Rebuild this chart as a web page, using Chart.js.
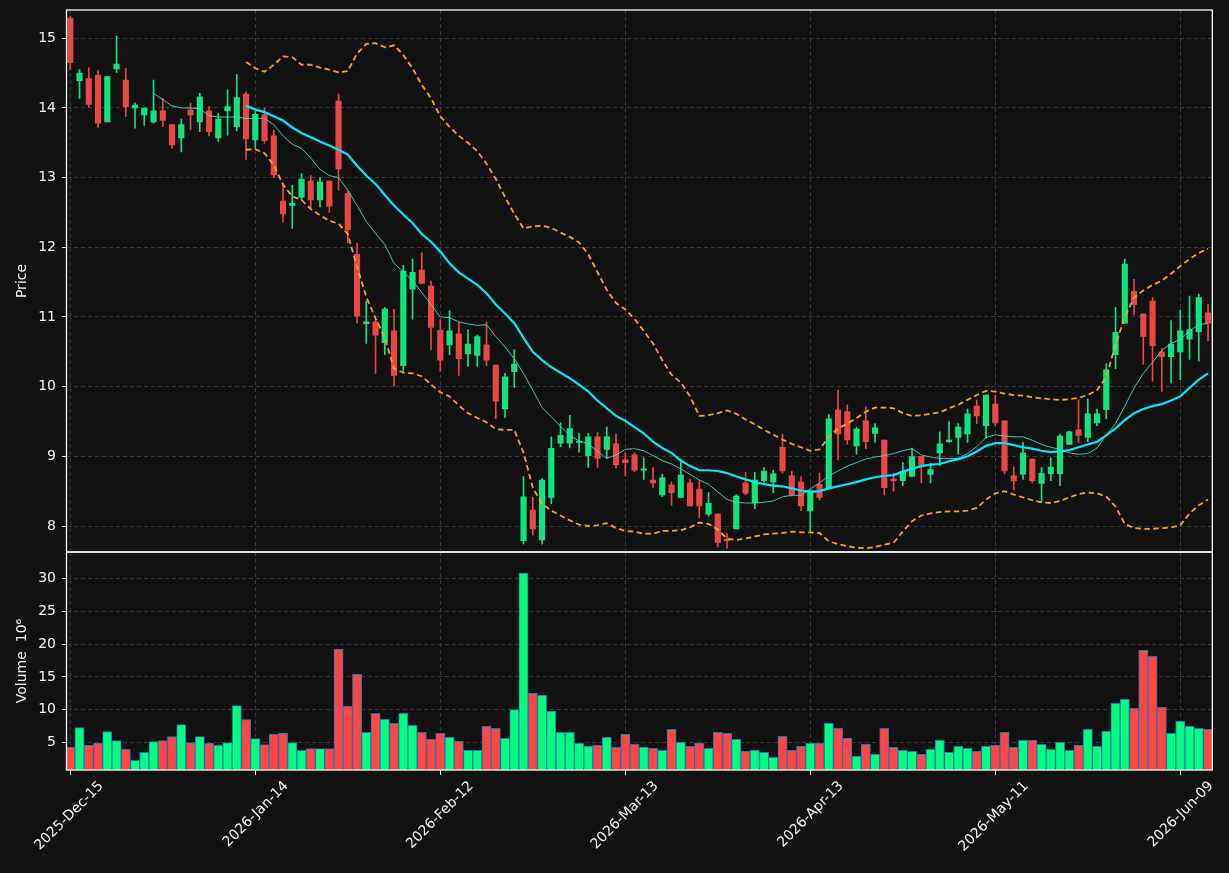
<!DOCTYPE html>
<html>
<head>
<meta charset="utf-8">
<title>Candles</title>
<script src="https://cdn.jsdelivr.net/npm/chart.js@4.4.0/dist/chart.umd.min.js"></script>
<style>
    html, body { margin: 0; padding: 0; background: #121212; }
    #wrap { position: relative; width: 1229px; height: 873px; }
    canvas { position: absolute; left: 0; top: 0; }
</style>
</head>
<body>
<div id="wrap">
    <canvas id="volumeChart" width="1229" height="873"></canvas>
    <canvas id="priceChart" width="1229" height="873"></canvas>
</div>
<script>
// dados (um candle por pregao, indice 0 = 2025-Dec-15)
const tickIndex = [0, 20, 40, 60, 80, 100, 120];
const tickLabels = ['2025-Dec-15', '2026-Jan-14', '2026-Feb-12', '2026-Mar-13', '2026-Apr-13', '2026-May-11', '2026-Jun-09'];
const priceTicks = [8, 9, 10, 11, 12, 13, 14, 15];
const volumeTicks = [5, 10, 15, 20, 25, 30];

const opens = [15.29,14.39,14.42,14.47,13.80,14.56,14.40,14.00,13.90,13.80,
    13.96,13.76,13.57,13.97,13.80,13.96,13.57,13.96,13.73,14.20,
    13.54,13.90,13.60,12.665,12.60,12.72,12.95,12.68,12.95,14.10,
    12.77,11.90,10.905,10.93,10.63,10.80,10.30,11.40,11.675,11.445,
    10.81,10.60,10.76,10.47,10.45,10.60,10.31,9.68,10.215,7.79,
    8.23,7.80,8.41,9.19,9.19,9.20,9.01,9.28,9.10,9.18,
    8.95,9.02,8.80,8.66,8.445,8.59,8.41,8.62,8.53,8.17,
    8.17,7.81,7.96,8.62,8.335,8.65,8.63,9.13,8.72,8.63,
    8.215,8.60,8.55,9.665,9.64,9.15,9.51,9.33,9.235,8.675,
    8.65,8.71,9.00,8.74,9.05,9.21,9.27,9.32,9.72,9.44,
    9.75,9.51,8.72,8.745,8.96,8.61,8.75,8.75,9.17,9.38,
    9.27,9.48,9.67,10.46,10.91,11.37,11.04,11.23,10.50,10.43,
    10.50,10.68,10.79,11.06];
const highs = [15.32,14.55,14.58,14.54,14.45,15.03,14.57,14.07,14.00,14.40,
    14.14,13.76,13.84,14.07,14.21,14.02,13.92,14.26,14.48,14.23,
    13.95,14.00,13.68,12.92,12.89,13.06,13.03,13.00,12.95,14.20,
    12.80,12.06,11.23,10.96,11.14,11.11,11.74,11.83,11.92,11.51,
    10.96,11.09,10.93,10.82,10.74,10.93,10.31,10.19,10.53,8.71,
    8.41,8.68,9.28,9.48,9.59,9.33,9.33,9.34,9.42,9.32,
    9.05,9.05,8.98,8.84,8.74,8.63,8.92,8.67,8.65,8.48,
    8.17,7.89,8.45,8.77,8.77,8.84,8.80,9.32,8.79,8.71,
    8.51,8.76,9.60,9.95,9.74,9.42,9.71,9.47,9.235,8.76,
    8.91,9.12,9.00,8.90,9.35,9.50,9.47,9.68,9.81,9.88,
    9.88,9.51,8.85,9.20,8.96,8.84,8.98,9.32,9.36,9.81,
    9.82,9.68,10.33,11.14,11.83,11.54,11.04,11.28,10.55,10.95,
    11.10,11.30,11.33,11.18];
const lows = [14.55,14.14,14.01,13.72,13.80,14.51,13.88,13.71,13.75,13.78,
    13.73,13.42,13.37,13.69,13.66,13.60,13.52,13.61,13.67,13.26,
    13.42,13.49,13.00,12.36,12.27,12.68,12.56,12.58,12.50,12.82,
    12.06,10.91,10.62,10.19,10.46,10.01,10.22,10.97,11.48,10.53,
    10.22,10.46,10.16,10.29,10.29,10.30,9.54,9.56,9.99,7.74,
    7.87,7.74,8.32,9.14,9.12,9.06,8.84,8.84,8.97,8.83,
    8.72,8.78,8.67,8.55,8.42,8.30,8.41,8.29,8.12,8.14,
    7.70,7.68,7.96,8.45,8.25,8.63,8.48,8.76,8.43,8.22,
    7.92,8.37,8.55,8.95,9.17,9.03,9.11,9.20,8.45,8.50,
    8.58,8.71,8.62,8.62,8.87,9.20,9.03,9.20,9.47,9.26,
    9.44,8.75,8.52,8.67,8.62,8.35,8.65,8.58,9.17,9.20,
    9.21,9.44,9.54,10.26,10.91,11.03,10.32,10.08,9.93,10.05,
    10.10,10.39,10.37,10.66];
const closes = [14.65,14.50,14.05,13.78,14.45,14.63,14.02,14.04,14.00,13.96,
    13.82,13.47,13.76,13.90,14.16,13.66,13.84,14.02,14.15,13.555,
    13.91,13.53,13.04,12.48,12.63,12.98,12.68,12.94,12.59,13.125,
    12.25,11.01,10.93,10.74,11.115,10.16,11.66,11.64,11.48,10.85,
    10.38,10.80,10.40,10.61,10.72,10.38,9.79,10.14,10.325,8.42,
    7.96,8.66,9.115,9.30,9.40,9.21,9.28,8.97,9.28,8.88,
    8.91,8.80,8.82,8.62,8.69,8.48,8.73,8.29,8.29,8.325,
    7.76,7.79,8.43,8.47,8.66,8.79,8.75,8.79,8.45,8.29,
    8.51,8.41,9.54,9.32,9.235,9.39,9.21,9.41,8.55,8.65,
    8.78,8.995,8.875,8.81,9.18,9.235,9.42,9.61,9.58,9.88,
    9.48,8.79,8.65,9.05,8.65,8.76,8.845,9.29,9.35,9.30,
    9.61,9.61,10.24,10.78,11.76,11.18,10.72,10.59,10.43,10.61,
    10.80,10.82,11.28,10.91];
// volume em milhoes
const volumes = [4.23,7.24,4.54,4.84,6.63,5.25,3.92,2.24,3.46,5.10,
    5.25,5.86,7.70,4.95,5.86,4.84,4.54,4.95,10.61,8.47,
    5.56,4.64,6.22,6.38,4.95,3.78,4.03,4.03,4.03,19.24,
    10.51,15.41,6.53,9.44,8.52,7.91,9.44,7.60,6.53,5.45,
    6.37,5.76,5.15,3.77,3.77,7.45,7.14,5.61,10.00,30.88,
    12.50,12.19,9.74,6.53,6.53,4.84,4.38,4.54,5.76,4.23,
    6.22,4.69,4.23,4.08,3.77,6.99,5.00,4.38,4.84,4.08,
    6.53,6.37,5.45,3.61,3.77,3.46,2.70,5.91,3.77,4.38,
    4.84,4.84,7.91,7.14,5.61,2.85,4.69,3.15,7.14,4.23,
    3.77,3.61,3.15,3.92,5.30,3.46,4.38,4.08,3.61,4.38,
    4.54,6.53,4.23,5.30,5.30,4.69,3.92,5.00,3.77,4.54,
    6.99,4.38,6.68,10.97,11.58,10.20,19.08,18.16,10.35,6.37,
    8.21,7.45,7.14,6.99];

// medias moveis e bandas
const ma10Start = 9;
const ma10 = [14.21,14.12,14.03,14.00,14.00,13.99,13.89,13.87,13.87,13.87,
    13.85,13.85,13.85,13.76,13.60,13.48,13.42,13.28,13.12,13.03,
    13.00,12.82,12.60,12.37,12.20,12.04,11.77,11.65,11.52,11.35,
    11.18,11.00,10.99,10.93,10.90,10.88,10.89,10.72,10.57,10.40,
    10.19,9.95,9.70,9.57,9.43,9.30,9.22,9.18,9.07,8.97,
    9.02,9.10,9.11,9.08,9.01,8.94,8.89,8.82,8.74,8.66,
    8.60,8.49,8.38,8.34,8.33,8.33,8.34,8.36,8.42,8.44,
    8.44,8.53,8.62,8.72,8.79,8.86,8.91,8.96,8.99,9.01,
    9.04,9.08,9.11,9.02,8.99,8.97,8.97,8.97,9.04,9.14,
    9.27,9.31,9.29,9.28,9.28,9.23,9.17,9.13,9.10,9.05,
    9.03,9.04,9.12,9.31,9.47,9.72,9.98,10.19,10.35,10.52,
    10.62,10.68,10.80,10.89,10.91];
const ma20Start = 19;
const ma20 = [14.03,13.98,13.94,13.88,13.82,13.72,13.64,13.58,13.52,13.46,
    13.40,13.33,13.17,13.03,12.91,12.75,12.60,12.47,12.35,12.19,
    12.08,11.94,11.77,11.64,11.55,11.46,11.34,11.18,11.05,10.91,
    10.70,10.50,10.38,10.28,10.20,10.12,10.03,9.93,9.80,9.69,
    9.58,9.51,9.42,9.33,9.21,9.12,9.05,8.94,8.86,8.80,
    8.80,8.79,8.76,8.71,8.67,8.63,8.60,8.58,8.57,8.54,
    8.51,8.49,8.50,8.54,8.57,8.60,8.63,8.67,8.70,8.72,
    8.73,8.78,8.82,8.86,8.88,8.89,8.93,8.96,9.00,9.07,
    9.15,9.19,9.19,9.16,9.13,9.11,9.08,9.06,9.07,9.09,
    9.13,9.17,9.21,9.30,9.40,9.52,9.62,9.68,9.72,9.75,
    9.80,9.86,9.98,10.10,10.19];
const bandUpper = [14.66,14.57,14.52,14.62,14.74,14.73,14.62,14.62,14.58,14.55,
    14.51,14.53,14.78,14.92,14.93,14.87,14.90,14.76,14.57,14.33,
    14.14,13.88,13.73,13.60,13.50,13.38,13.20,12.98,12.72,12.48,
    12.27,12.30,12.31,12.28,12.21,12.15,12.07,11.90,11.64,11.39,
    11.20,11.11,10.97,10.80,10.62,10.38,10.17,10.06,9.86,9.58,
    9.59,9.62,9.66,9.61,9.53,9.46,9.38,9.31,9.24,9.18,
    9.13,9.08,9.10,9.28,9.40,9.47,9.55,9.64,9.70,9.70,
    9.69,9.62,9.58,9.59,9.61,9.63,9.69,9.74,9.81,9.88,
    9.94,9.93,9.90,9.88,9.87,9.85,9.83,9.82,9.81,9.82,
    9.84,9.88,9.95,10.14,10.60,11.00,11.28,11.38,11.46,11.52,
    11.62,11.73,11.83,11.92,11.98];
const bandLower = [13.40,13.41,13.35,13.18,12.90,12.73,12.68,12.55,12.46,12.38,
    12.34,12.19,11.72,11.29,10.98,10.70,10.26,10.20,10.19,10.15,
    10.03,9.92,9.86,9.73,9.62,9.55,9.49,9.39,9.38,9.38,
    9.05,8.55,8.32,8.22,8.15,8.08,8.02,8.00,8.01,8.04,
    7.97,7.93,7.92,7.89,7.89,7.93,7.93,7.94,7.98,8.05,
    8.03,7.95,7.82,7.80,7.82,7.85,7.88,7.89,7.90,7.92,
    7.91,7.91,7.90,7.78,7.74,7.71,7.69,7.68,7.70,7.73,
    7.76,7.92,8.07,8.15,8.18,8.20,8.21,8.21,8.22,8.26,
    8.38,8.47,8.50,8.45,8.41,8.37,8.34,8.33,8.36,8.41,
    8.46,8.48,8.47,8.42,8.28,8.03,7.97,7.96,7.96,7.97,
    7.98,8.01,8.18,8.30,8.38];

// layout (pixels) e limites dos eixos
const PLOT_LEFT = 66.5;
const PAD_RIGHT = 1229 - 1212.3;
const PRICE_TOP = 10;
const SPLIT_Y = 552;
const VOL_BOTTOM = 770;
const X_MIN = -0.41, X_MAX = 123.46;
const PRICE_MIN = 7.627, PRICE_MAX = 15.406;
const VOL_MIN = 0.76, VOL_MAX = 34.1;

const TEXT = '#f2f2f2';
const GRID = '#3b3b3b';
const UP_CANDLE = '#12e381';
const DOWN_CANDLE = '#e94646';
const UP_VOL = '#00ff80';
const DOWN_VOL = '#ff4646';

Chart.defaults.font.family = "'DejaVu Sans', sans-serif";
Chart.defaults.font.size = 14;
Chart.defaults.color = TEXT;

const idx = closes.map((c, i) => i);
const isUp = i => closes[i] >= opens[i];
const candleColors = idx.map(i => isUp(i) ? UP_CANDLE : DOWN_CANDLE);
const volColors = idx.map(i => isUp(i) ? UP_VOL : DOWN_VOL);
const series = (arr, start) => arr.map((v, k) => ({ x: start + k, y: v }));

// moldura branca em volta de cada painel
const frame = {
    id: 'frame',
    afterDraw(chart) {
        const { ctx, chartArea: a } = chart;
        ctx.save();
        ctx.strokeStyle = '#ffffff';
        ctx.lineWidth = 1.3;
        ctx.strokeRect(a.left, a.top, a.right - a.left, a.bottom - a.top);
        ctx.restore();
    }
};

function xScale(showLabels) {
    return {
        type: 'linear',
        min: X_MIN,
        max: X_MAX,
        offset: false,
        afterBuildTicks: s => { s.ticks = tickIndex.map(v => ({ value: v })); },
        ticks: {
            display: showLabels,
            autoSkip: false,
            minRotation: 45,
            maxRotation: 45,
            padding: 3,
            labelOffset: 31,
            color: TEXT,
            callback: v => tickLabels[tickIndex.indexOf(v)]
        },
        grid: { offset: false, color: GRID, lineWidth: 1, drawTicks: showLabels, tickLength: 5, tickColor: TEXT, tickBorderDash: [] },
        border: { display: false, dash: [4, 3] },
        afterFit: s => {
            s.height = showLabels ? 873 - VOL_BOTTOM : 0;
            s.paddingLeft = 0;
            s.paddingRight = 0;
        }
    };
}

function yScale(min, max, ticksList, title) {
    return {
        position: 'left',
        min: min,
        max: max,
        afterBuildTicks: s => { s.ticks = ticksList.map(v => ({ value: v })); },
        ticks: { color: TEXT, padding: 6 },
        grid: { color: GRID, lineWidth: 1, tickLength: 4.5, tickColor: TEXT, tickBorderDash: [] },
        border: { display: false, dash: [4, 3] },
        title: { display: true, text: title, color: TEXT, padding: { top: 13.5, bottom: 0 } },
        afterFit: s => {
            s.width = PLOT_LEFT;
            s.paddingTop = 0;
            s.paddingBottom = 0;
        }
    };
}

// Painel de precos: velas (barras flutuantes), medias e bandas
new Chart(document.getElementById('priceChart'), {
    type: 'bar',
    data: {
        datasets: [
            {
                type: 'line', label: 'MA20', data: series(ma20, ma20Start),
                borderColor: '#00e8ff', borderWidth: 2.2, pointRadius: 0, tension: 0, order: 0, clip: 0
            },
            {
                type: 'line', label: 'MA10', data: series(ma10, ma10Start),
                borderColor: 'rgba(64, 224, 208, 0.85)', borderWidth: 1, pointRadius: 0, tension: 0, order: 0, clip: 0
            },
            {
                type: 'line', label: 'Upper', data: series(bandUpper, ma20Start),
                borderColor: '#ffa500', borderWidth: 1.8, borderDash: [5.5, 3.5], pointRadius: 0, tension: 0, order: 0, clip: 0
            },
            {
                type: 'line', label: 'Lower', data: series(bandLower, ma20Start),
                borderColor: '#ffa500', borderWidth: 1.8, borderDash: [5.5, 3.5], pointRadius: 0, tension: 0, order: 0, clip: 0
            },
            {
                label: 'body', data: idx.map(i => ({ x: i, y: [opens[i], closes[i]] })),
                backgroundColor: candleColors, barThickness: 5.5, minBarLength: 1, grouped: false, order: 1, clip: 0
            },
            {
                label: 'wick', data: idx.map(i => ({ x: i, y: [lows[i], highs[i]] })),
                backgroundColor: candleColors, barThickness: 1, grouped: false, order: 2, clip: 0
            }
        ]
    },
    options: {
        responsive: false,
        animation: false,
        events: [],
        layout: { padding: { top: PRICE_TOP, bottom: 873 - SPLIT_Y, left: 0, right: PAD_RIGHT } },
        plugins: { legend: { display: false }, tooltip: { enabled: false } },
        scales: {
            x: xScale(false),
            y: yScale(PRICE_MIN, PRICE_MAX, priceTicks, 'Price')
        }
    },
    plugins: [frame]
});

// Painel de volume
new Chart(document.getElementById('volumeChart'), {
    type: 'bar',
    data: {
        datasets: [{
            label: 'Volume',
            data: idx.map(i => ({ x: i, y: volumes[i] })),
            backgroundColor: volColors,
            borderColor: '#1f77b4',
            borderWidth: 1,
            borderSkipped: false,
            barThickness: 9.25,
            grouped: false,
            clip: 0
        }]
    },
    options: {
        responsive: false,
        animation: false,
        events: [],
        layout: { padding: { top: SPLIT_Y, bottom: 0, left: 0, right: PAD_RIGHT } },
        plugins: { legend: { display: false }, tooltip: { enabled: false } },
        scales: {
            x: xScale(true),
            y: yScale(VOL_MIN, VOL_MAX, volumeTicks, 'Volume  10\u2076')
        }
    },
    plugins: [frame]
});
</script>
</body>
</html>
